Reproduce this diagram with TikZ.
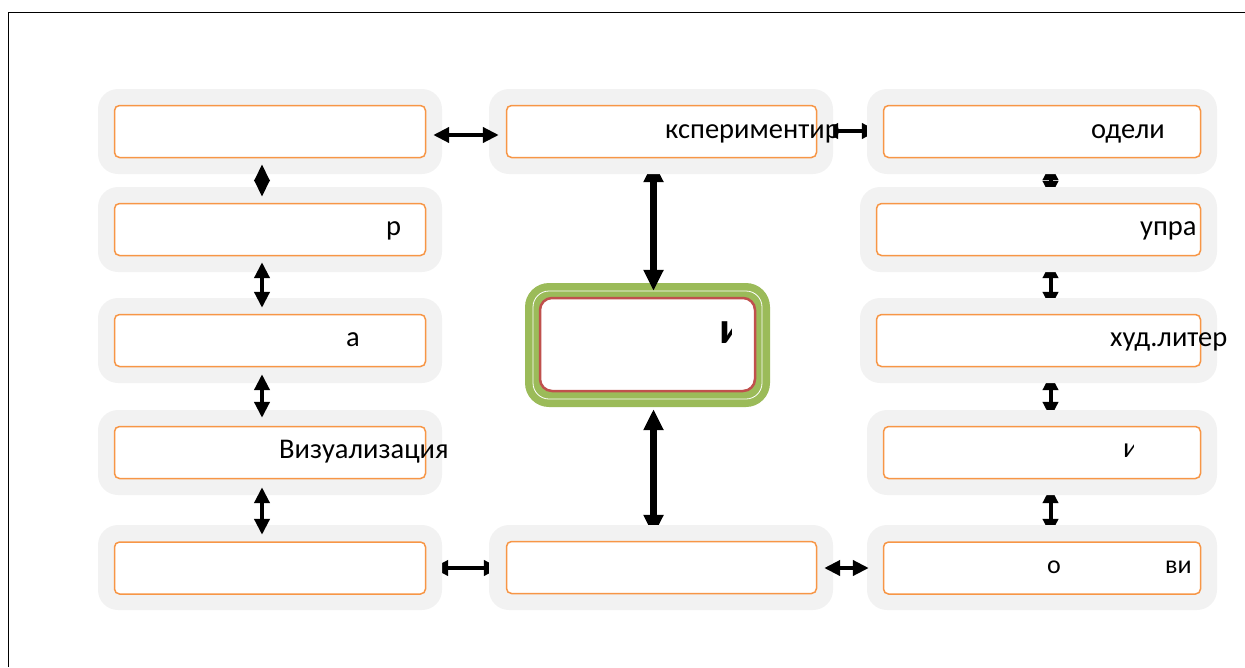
\documentclass[tikz,border=0pt]{standalone}
\usepackage{fontspec}
\setmainfont{Carlito}
\usetikzlibrary{arrows.meta,calc}
\pgfdeclarelayer{bottom}
\pgfdeclarelayer{back}
\pgfsetlayers{bottom,back,main}
\definecolor{gbox}{HTML}{F2F2F2}
\definecolor{obox}{HTML}{F79646}
\definecolor{grn}{HTML}{9BBB59}
\definecolor{rd}{HTML}{C0504D}
\tikzset{
  graybox/.style={fill=gbox, draw=none, rounded corners=20pt, inner sep=0pt, minimum height=85pt},
  orangebox/.style={fill=white, draw=obox, line width=1.5pt, rounded corners=5pt, inner sep=0pt, minimum height=52pt},
  thinarrow/.style={line width=4pt, {Triangle[length=16pt,width=15pt]}-{Triangle[length=16pt,width=15pt]}},
  diamondarrow/.style={line width=4pt, {Triangle[length=17pt,width=15pt]}-{Triangle[length=17pt,width=15pt]}},
  thickarrow/.style={line width=7pt, {Triangle[length=21pt,width=19pt]}-{Triangle[length=21pt,width=19pt]}},
  lbl/.style={inner sep=0pt, anchor=base west, font=\fontsize{28.5}{33}\selectfont},
  frameline/.style={draw=black, line width=1pt},
}
\begin{document}
\begin{tikzpicture}[x=1pt,y=-1pt]
\useasboundingbox (0,0) rectangle (1245,667);
\draw[frameline] (8,667) -- (8,12) -- (1245,12);

% central node
\begin{pgfonlayer}{bottom}
\node[fill=grn, draw=none, rounded corners=24pt, minimum width=245pt, minimum height=124pt, inner sep=0pt] (C) at (647.5,345) {};
\node[draw=white, line width=0.8pt, rounded corners=16pt, minimum width=229pt, minimum height=108pt, inner sep=0pt] (Cw) at (C.center) {};
\node[draw=rd, fill=white, line width=2.5pt, rounded corners=12pt, minimum width=215pt, minimum height=93pt, inner sep=0pt] (Cr) at (647.5,344.5) {};
\end{pgfonlayer}

% gray boxes
\node[graybox, minimum width=344pt] (L1) at (270,131.5) {};
\node[graybox, minimum width=344pt] (L2) at (270,229.5) {};
\node[graybox, minimum width=344pt] (L3) at (270,340.5) {};
\node[graybox, minimum width=344pt] (L4) at (270,452.5) {};
\node[graybox, minimum width=344pt] (L5) at (270,567.5) {};
\node[graybox, minimum width=344pt] (M1) at (661,131.5) {};
\node[graybox, minimum width=344pt] (M5) at (661,567.5) {};
\node[graybox, minimum width=350pt] (R1) at (1042,131.5) {};
\node[graybox, minimum width=357pt] (R2) at (1038.5,229.5) {};
\node[graybox, minimum width=357pt] (R3) at (1038.5,340.5) {};
\node[graybox, minimum width=350pt] (R4) at (1042,452.5) {};
\node[graybox, minimum width=350pt] (R5) at (1042,567.5) {};

% arrows hidden partly under the gray boxes
\begin{pgfonlayer}{back}
\draw[thickarrow] ($(M1.south)+(-7.5,-13)$) -- ($(C.north)+(6,8)$);
\draw[thickarrow] ($(C.south)+(6,2)$) -- ($(M5.north)+(-7.5,11)$);
\draw[thinarrow] ($(R1.south)+(8.5,-10)$) -- ($(R2.north)+(12,10)$);
\draw[thinarrow] ($(R2.south)+(12,-10)$) -- ($(R3.north)+(12,10)$);
\draw[thinarrow] ($(R3.south)+(12,-9)$) -- ($(R4.north)+(8.5,8)$);
\draw[thinarrow] ($(R4.south)+(8.5,-8)$) -- ($(R5.north)+(8.5,10)$);
\draw[thinarrow] ($(M1.east)+(-11,-0.5)$) -- ($(R1.west)+(11,-0.5)$);
\draw[thinarrow] ($(L5.east)+(-10,0.5)$) -- ($(M5.west)+(11,0.5)$);
\end{pgfonlayer}

% arrows over the gray boxes
\draw[diamondarrow] ($(L1.south)+(-8,-10)$) -- ($(L2.north)+(-8,10)$);
\draw[thinarrow] ($(L2.south)+(-8,-10)$) -- ($(L3.north)+(-8,10)$);
\draw[thinarrow] ($(L3.south)+(-8,-9)$) -- ($(L4.north)+(-8,8)$);
\draw[thinarrow] ($(L4.south)+(-8,-8)$) -- ($(L5.north)+(-8,10)$);
\draw[thinarrow] ($(L1.east)+(-9,3.5)$) -- ($(M1.west)+(10,3.5)$);
\draw[thinarrow] ($(M5.east)+(-9,0.5)$) -- ($(R5.west)+(2,0.5)$);

% orange boxes
\node[orangebox, minimum width=311pt] (Lo1) at (270,131.5) {};
\node[orangebox, minimum width=311pt] (Lo2) at (270,229.5) {};
\node[orangebox, minimum width=311pt] (Lo3) at (270,340.5) {};
\node[orangebox, minimum width=311pt] (Lo4) at (270,452.5) {};
\node[orangebox, minimum width=311pt] (Lo5) at (270,568) {};
\node[orangebox, minimum width=310pt] (Mo1) at (661.5,131.5) {};
\node[orangebox, minimum width=310pt] (Mo5) at (661.5,567.5) {};
\node[orangebox, minimum width=317pt] (Ro1) at (1042,131.5) {};
\node[orangebox, minimum width=324pt] (Ro2) at (1038.5,229.5) {};
\node[orangebox, minimum width=324pt] (Ro3) at (1038.5,340.5) {};
\node[orangebox, minimum width=317pt] (Ro4) at (1042,452.5) {};
\node[orangebox, minimum width=317pt] (Ro5) at (1042,568) {};

% texts
\node[lbl] (t1) at (665,138) {кспериментир};
\node[lbl] (t2) at (1091,138) {одели};
\node[lbl] (t3) at (1140,235) {упра};
\node[lbl] (t4) at (386,235) {р};
\node[lbl] (t5) at (346,346) {а};
\node[lbl] (t6) at (1110,346) {худ.литер};
\node[lbl] (t7) at (279,458) {Визуализация};
\node[lbl, font=\fontsize{26}{30}\selectfont] (t8) at (1047,573) {о};
\node[lbl, font=\fontsize{26}{30}\selectfont] (t9) at (1165,573) {ви};
\begin{scope}
  \clip (1118,430) rectangle (1133.5,465);
  \node[lbl] (t10) at (1123,457) {и};
\end{scope}
\begin{scope}
  \clip (712,310) rectangle (731.5,350);
  \node[inner sep=0pt, anchor=base west, font=\bfseries\fontsize{45}{50}\selectfont] (t11) at (719,343) {и};
\end{scope}
\end{tikzpicture}
\end{document}
